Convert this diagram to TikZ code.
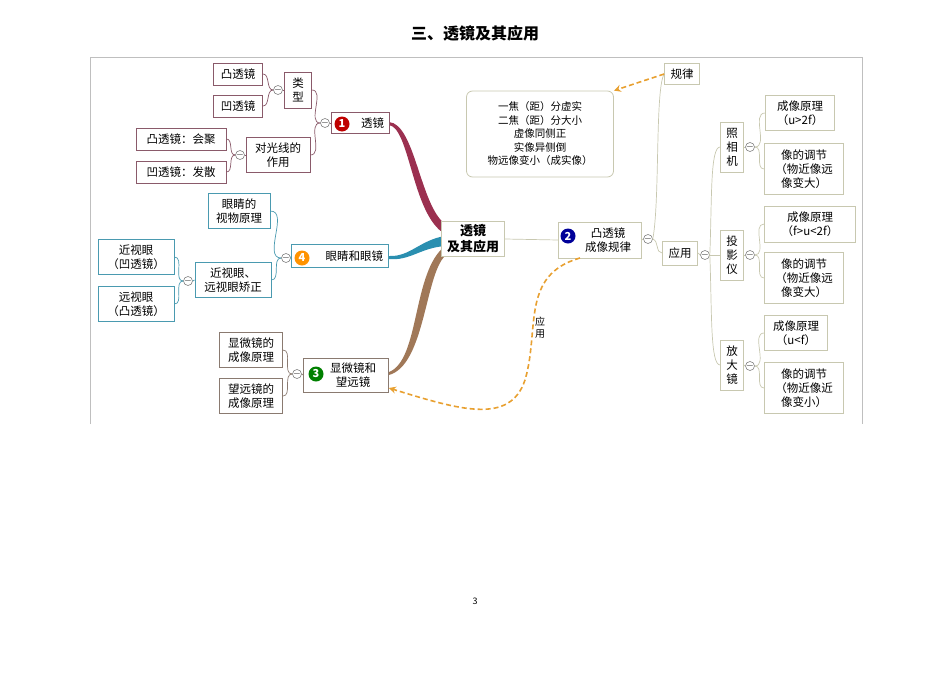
\documentclass[tikz,border=0pt]{standalone}
\usepackage{fontspec}
\setmainfont{Noto Sans CJK SC}
\usetikzlibrary{arrows.meta}
\definecolor{cA}{HTML}{8A5A6A}
\definecolor{cB}{HTML}{4A9AB0}
\definecolor{cC}{HTML}{8A7A70}
\definecolor{cD}{HTML}{C8C8B0}
\definecolor{brA}{HTML}{9B3050}
\definecolor{brB}{HTML}{2A8FB0}
\definecolor{brC}{HTML}{A07858}
\definecolor{orng}{HTML}{E8A030}
\tikzset{
 bx/.style={draw=#1, fill=white, line width=0.8pt, align=center, inner sep=1pt, font=\fontsize{11.5}{14}\selectfont},
 bx/.default=cD,
 col/.style={circle, draw=gray, fill=white, minimum size=9pt, inner sep=0pt, line width=0.6pt, font=\fontsize{7}{7}\selectfont, label={[inner sep=0pt]center:$-$}},
 badge/.style={circle, fill=#1, minimum size=15pt, inner sep=0pt, text=white, font=\bfseries\fontsize{11}{11}\selectfont},
 ln/.style={draw=#1, line width=0.7pt},
 dsh/.style={draw=orng, line width=1.6pt, dash pattern=on 5pt off 3pt, -{Stealth[length=7pt,width=7pt]}}
}
\begin{document}
\begin{tikzpicture}[x=1pt,y=-1pt]
\useasboundingbox (0,0) rectangle (950,672);
\node[font=\bfseries\fontsize{16}{19}\selectfont] (title) at (475,33) {三、透镜及其应用};
\node[font=\fontsize{9}{10}\selectfont] (pg) at (475,601) {3};
\draw[gray!50, line width=0.7pt] (90,424) -- (90,57) -- (862,57) -- (862,424);

% branches
\fill[brA] (389,122) .. controls (415,124) and (420,205) .. (445,224) -- (445,234) .. controls (412,215) and (410,128) .. (389,125) -- cycle;
\fill[brB] (389,256) .. controls (410,257) and (420,240) .. (445,236) -- (445,246) .. controls (420,248) and (410,261) .. (389,259) -- cycle;
\fill[brC] (389,372) .. controls (420,360) and (412,272) .. (445,246) -- (445,256) .. controls (425,275) and (425,365) .. (389,375) -- cycle;

% center
\node[bx, minimum width=63pt, minimum height=35pt, font=\bfseries\fontsize{13}{16}\selectfont] (ctr) at (473,239) {透镜\\及其应用};

% group 1
\node[bx=cA, minimum width=49pt, minimum height=22pt] (tu) at (238,74) {凸透镜};
\node[bx=cA, minimum width=49pt, minimum height=22pt] (ao) at (238,106) {凹透镜};
\node[bx=cA, minimum width=27pt, minimum height=36pt] (lx) at (298,90) {类\\型};
\node[col] (c11) at (278,90) {};
\node[bx=cA, minimum width=90pt, minimum height=22pt] (hj) at (181,139) {凸透镜：会聚};
\node[bx=cA, minimum width=90pt, minimum height=22pt] (fs) at (181,172) {凹透镜：发散};
\node[bx=cA, minimum width=64pt, minimum height=35pt] (dg) at (278,155) {对光线的\\作用};
\node[col] (c12) at (240,155) {};
\node[bx=cA, minimum width=58pt, minimum height=21pt, text width=52pt, align=right] (n1) at (360,123) {透镜\,};
\node[badge=red!75!black] (b1) at (342,124) {1};
\node[col] (c1) at (325,123) {};
\draw[ln=cA] (tu.east) to[out=0,in=180] (c11.west);
\draw[ln=cA] (ao.east) to[out=0,in=180] (c11.west);
\draw[ln=cA] (c11.east) -- (lx.west);
\draw[ln=cA] (hj.east) to[out=0,in=180] (c12.west);
\draw[ln=cA] (fs.east) to[out=0,in=180] (c12.west);
\draw[ln=cA] (c12.east) -- (dg.west);
\draw[ln=cA] (lx.east) to[out=0,in=180] (c1.west);
\draw[ln=cA] (dg.east) to[out=0,in=180] (c1.west);
\draw[ln=cA] (c1.east) -- (n1.west);

% group 4
\node[bx=cB, minimum width=62pt, minimum height=35pt] (ys) at (239,211) {眼睛的\\视物原理};
\node[bx=cB, minimum width=76pt, minimum height=35pt] (jsy) at (136,257) {近视眼\\（凹透镜）};
\node[bx=cB, minimum width=76pt, minimum height=35pt] (ysy) at (136,304) {远视眼\\（凸透镜）};
\node[bx=cB, minimum width=76pt, minimum height=35pt] (jz) at (233,280) {近视眼、\\远视眼矫正};
\node[col] (c41) at (188,281) {};
\node[bx=cB, minimum width=97pt, minimum height=23pt, text width=90pt, align=right] (n4) at (340,256) {眼睛和眼镜\,};
\node[badge=orange!85!yellow] (b4) at (302,258) {4};
\node[col] (c4) at (286,258) {};
\draw[ln=cB] (jsy.east) to[out=0,in=180] (c41.west);
\draw[ln=cB] (ysy.east) to[out=0,in=180] (c41.west);
\draw[ln=cB] (c41.east) -- (jz.west);
\draw[ln=cB] (ys.east) to[out=0,in=180] (c4.west);
\draw[ln=cB] (jz.east) to[out=0,in=180] (c4.west);
\draw[ln=cB] (c4.east) -- (n4.west);

% group 3
\node[bx=cC, minimum width=63pt, minimum height=35pt] (xw) at (251,350) {显微镜的\\成像原理};
\node[bx=cC, minimum width=63pt, minimum height=35pt] (wy) at (251,396) {望远镜的\\成像原理};
\node[bx=cC, minimum width=85pt, minimum height=34pt] (n3) at (346,375) {\hspace*{14pt}显微镜和\\\hspace*{14pt}望远镜};
\node[badge=green!50!black] (b3) at (316,374) {3};
\node[col] (c3) at (297,374) {};
\draw[ln=cC] (xw.east) to[out=0,in=180] (c3.west);
\draw[ln=cC] (wy.east) to[out=0,in=180] (c3.west);
\draw[ln=cC] (c3.east) -- (n3.west);

% group 2
\node[bx, minimum width=83pt, minimum height=36pt] (n2) at (600,240) {\hspace*{16pt}凸透镜\\\hspace*{16pt}成像规律};
\node[badge=blue!60!black] (b2) at (568,236) {2};
\node[col] (c2) at (648,239) {};
\draw[ln=cD] (ctr.east) -- (n2.west);
\draw[ln=cD] (n2.east) -- (c2.west);
\node[bx, minimum width=35pt, minimum height=21pt] (gl) at (682,74) {规律};
\node[bx, rounded corners=6pt, minimum width=147pt, minimum height=86pt, font=\fontsize{10.5}{13.5}\selectfont] (gz) at (540,134) {一焦（距）分虚实\\二焦（距）分大小\\虚像同侧正\\实像异侧倒\\物远像变小（成实像）};
\node[bx, minimum width=35pt, minimum height=24pt] (yy) at (680,253) {应用};
\node[col] (cy) at (705,255) {};
\draw[ln=cD] (c2.east) .. controls (660,200) and (655,90) .. (gl.west);
\draw[ln=cD] (c2.east) to[out=-20,in=180] (yy.west);
\draw[ln=cD] (yy.east) -- (cy.west);

\node[bx, minimum width=23pt, minimum height=50pt] (zx) at (732,147) {照\\相\\机};
\node[bx, minimum width=23pt, minimum height=50pt] (ty) at (732,255) {投\\影\\仪};
\node[bx, minimum width=23pt, minimum height=50pt] (fd) at (732,365) {放\\大\\镜};
\node[col] (cz) at (750,147) {};
\node[col] (ct) at (750,255) {};
\node[col] (cf) at (750,366) {};
\foreach \a/\b in {zx/cz,ty/ct,fd/cf}{\draw[ln=cD] (\a.east) -- (\b.west);}
\draw[ln=cD] (cy.east) .. controls (712,200) and (710,147) .. (zx.west);
\draw[ln=cD] (cy.east) -- (ty.west);
\draw[ln=cD] (cy.east) .. controls (712,310) and (710,365) .. (fd.west);

\node[bx, minimum width=69pt, minimum height=35pt] (r1) at (800,113) {成像原理\\（u>2f）};
\node[bx, minimum width=79pt, minimum height=51pt] (r2) at (804,169) {像的调节\\（物近像远\\像变大）};
\node[bx, minimum width=91pt, minimum height=36pt] (r3) at (810,224) {成像原理\\（f>u<2f）};
\node[bx, minimum width=79pt, minimum height=51pt] (r4) at (804,278) {像的调节\\（物近像远\\像变大）};
\node[bx, minimum width=63pt, minimum height=35pt] (r5) at (796,333) {成像原理\\（u<f）};
\node[bx, minimum width=79pt, minimum height=51pt] (r6) at (804,388) {像的调节\\（物近像近\\像变小）};
\foreach \c/\r in {cz/r1,cz/r2,ct/r3,ct/r4,cf/r5,cf/r6}{\draw[ln=cD] (\c.east) to[out=0,in=180] (\r.west);}

% dashed arrows
\draw[dsh] (gl.west) -- (gz.north east);
\draw[dsh] (580,258) .. controls (520,275) and (540,330) .. (525,380) .. controls (510,425) and (460,410) .. (n3.east |- 0,388);
\node[font=\fontsize{10}{12}\selectfont, align=center] (lbl) at (540,328) {应\\用};
\end{tikzpicture}
\end{document}
